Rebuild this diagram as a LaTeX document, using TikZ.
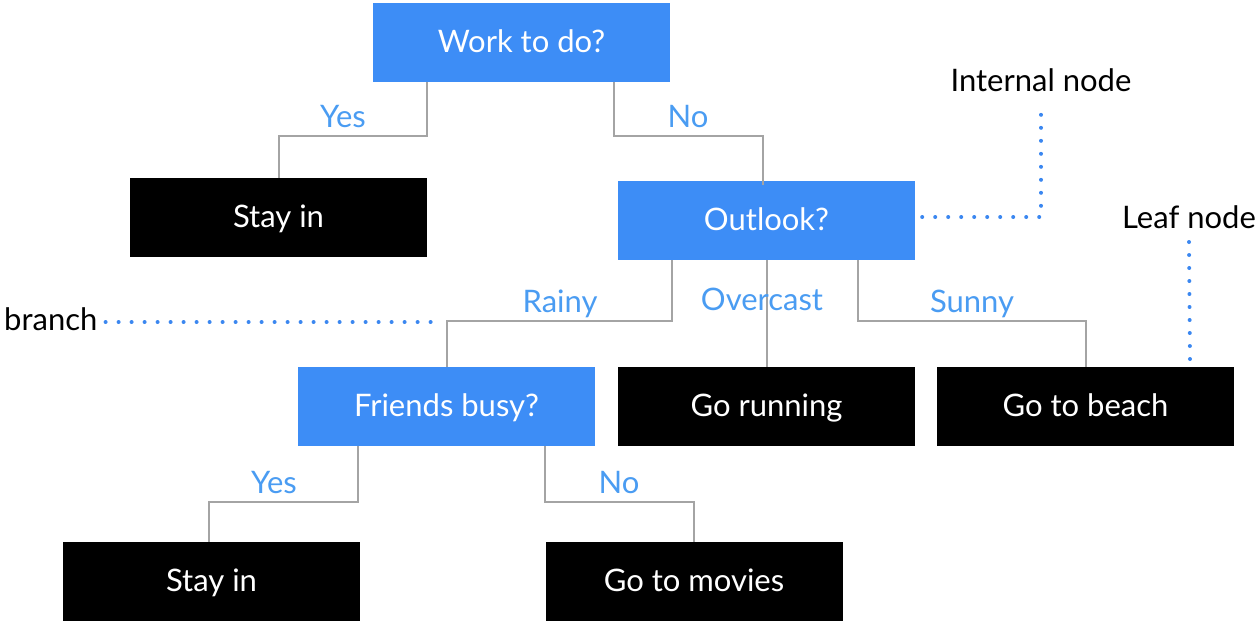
\documentclass[tikz,border=0pt]{standalone}
\usepackage{fontspec}
\setmainfont{Lato}
\definecolor{boxblue}{RGB}{61,141,246}
\definecolor{labelblue}{RGB}{74,156,242}
\definecolor{dotblue}{RGB}{59,135,240}
\definecolor{edgegray}{RGB}{164,164,164}
\tikzset{
  box/.style={minimum width=297pt, minimum height=79pt, inner sep=0pt,
    text height=24pt, text depth=4pt,
    text=white, font=\fontsize{31}{36}\selectfont},
  decision/.style={box, fill=boxblue},
  leaf/.style={box, fill=black},
  edge/.style={draw=edgegray, line width=2pt},
  choice/.style={text=labelblue, font=\fontsize{31}{36}\selectfont, anchor=base, inner sep=0pt},
  note/.style={text=black, font=\fontsize{31}{36}\selectfont, anchor=base, inner sep=0pt},
  pointer/.style={draw=dotblue, line width=4pt, line cap=round, dash pattern=on 0pt off 13pt}
}
\begin{document}
\begin{tikzpicture}[x=1pt, y=-1pt]
\useasboundingbox (0,0) rectangle (1258,622);

% decision and leaf boxes
\node[decision] (work)    at (521.5, 42.5)  {Work to do?};
\node[leaf]     (stay1)   at (278.5, 217.5) {Stay in};
\node[decision] (outlook) at (766.5, 220.5) {Outlook?};
\node[decision] (friends) at (446.5, 406.5) {Friends busy?};
\node[leaf]     (run)     at (766.5, 406.5) {Go running};
\node[leaf]     (beach)   at (1085.5, 406.5) {Go to beach};
\node[leaf]     (stay2)   at (211.5, 581.5) {Stay in};
\node[leaf]     (movies)  at (694, 581.5)   {Go to movies};

% branches
\draw[edge] ([xshift=-94.5pt]work.south) -- ++(0,54) -| (stay1.north);
\draw[edge] ([xshift=92pt]work.south) -- ++(0,54) -| ([xshift=-3.5pt,yshift=-4pt]outlook.north);
\draw[edge] ([xshift=-94.5pt]outlook.south) -- ++(0,61) -| (friends.north);
\draw[edge] (outlook.south) -- (run.north);
\draw[edge] ([xshift=91.5pt]outlook.south) -- ++(0,61) -| (beach.north);
\draw[edge] ([xshift=-88.5pt]friends.south) -- ++(0,56) -| ([xshift=-3pt]stay2.north);
\draw[edge] ([xshift=98.5pt]friends.south) -- ++(0,56) -| (movies.north);

% branch labels
\node[choice] (l1) at (343, 127) {Yes};
\node[choice] (l2) at (688, 127) {No};
\node[choice] (l3) at (560, 312) {Rainy};
\node[choice] (l4) at (762, 310) {Overcast};
\node[choice] (l5) at (972, 312) {Sunny};
\node[choice] (l6) at (274, 493) {Yes};
\node[choice] (l7) at (619, 493) {No};

% annotations
\node[note] (inner) at (1041, 91) {Internal node};
\node[note] (leafnote) at (1189, 228) {Leaf node};
\node[note, anchor=base west] (branchnote) at (4, 330) {branch};

\coordinate (bend) at (1041, 217);
\draw[pointer] ([xshift=7pt]outlook.east |- bend) -- (bend) -- ([yshift=-21pt]inner.base);
\draw[pointer] ([yshift=-14pt]leafnote.base) -- (1190, 362);
\draw[pointer] ([xshift=8pt,yshift=8pt]branchnote.base east) -- (433, 322);
\end{tikzpicture}
\end{document}
